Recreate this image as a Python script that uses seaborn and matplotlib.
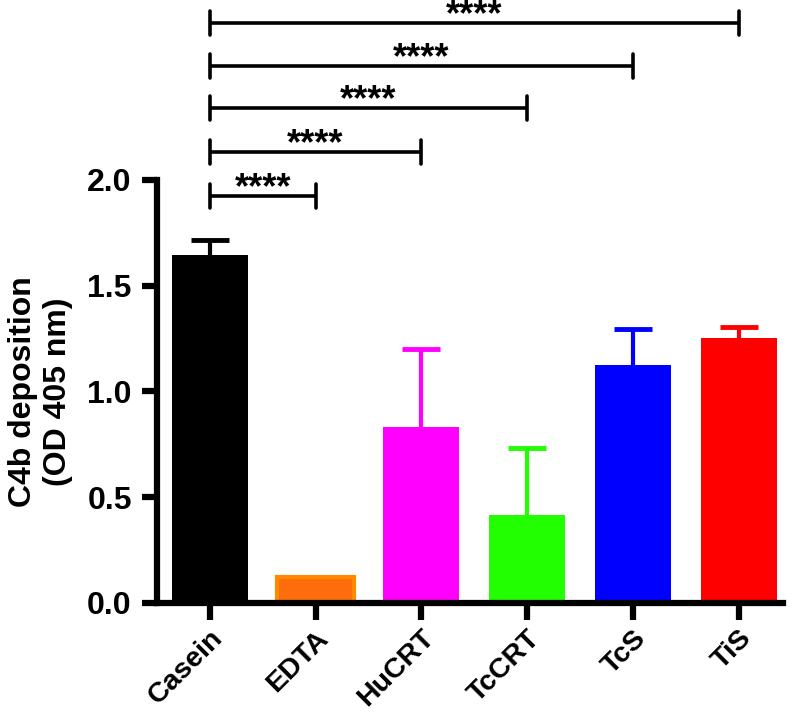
import matplotlib
matplotlib.use("Agg")
import matplotlib.pyplot as plt
import seaborn as sns
import numpy as np

# ---- data ----
groups = ["Casein", "EDTA", "HuCRT", "TcCRT", "TcS", "TiS"]
means = [1.645, 0.123, 0.832, 0.416, 1.125, 1.253]
errors = [0.071, 0.0, 0.368, 0.317, 0.171, 0.052]
colors = ["#000000", "#ff6c0c", "#ff00ff", "#22ff00", "#0000ff", "#ff0000"]
edge_colors = ["#000000", "#ff8a00", "#ff00ff", "#22ff00", "#0000ff", "#ff0000"]

# significance brackets: Casein vs each other group
bracket_targets = ["EDTA", "HuCRT", "TcCRT", "TcS", "TiS"]
bracket_heights = [1.924, 2.132, 2.340, 2.539, 2.742]
bracket_labels = ["****", "****", "****", "****", "****"]
yticks = [0.0, 0.5, 1.0, 1.5, 2.0]

sns.set_style("ticks")
plt.rcParams["font.family"] = ["Liberation Sans", "DejaVu Sans"]
plt.rcParams["font.weight"] = "bold"
plt.rcParams["text.color"] = "black"
plt.rcParams["axes.labelcolor"] = "black"
plt.rcParams["xtick.color"] = "black"
plt.rcParams["ytick.color"] = "black"
plt.rcParams["axes.edgecolor"] = "black"

fig = plt.figure(figsize=(7.96, 7.21), dpi=100)
ax = fig.add_axes([0.197, 0.1637, 0.787, 0.5867])

sns.barplot(x=groups, y=means, hue=groups, palette=colors, legend=False,
            width=0.72, saturation=1, ax=ax)

# bar edges (EDTA has a lighter orange rim)
for patch, ec, name in zip(ax.patches, edge_colors, groups):
    patch.set_edgecolor(ec)
    patch.set_linewidth(3 if name == "EDTA" else 0)
    patch.set_zorder(2)

# upper-only error bars in the bar colour (stem + top cap only)
xs = {}
for patch, err, col, name in zip(ax.patches, errors, colors, groups):
    x = patch.get_x() + patch.get_width() / 2
    xs[name] = x
    top = patch.get_height()
    if err > 0:
        ax.plot([x, x], [top, top + err], color=col, lw=3, zorder=1,
                solid_capstyle="butt")
        ax.plot([x], [top + err], marker="_", markersize=28, mew=3.5,
                color=col, zorder=1)

# significance brackets above the axes
tick_h = 0.055
for target, yb, lab in zip(bracket_targets, bracket_heights, bracket_labels):
    x0, x1 = xs["Casein"], xs[target]
    ax.plot([x0, x1], [yb, yb], color="black", lw=2.6, clip_on=False,
            solid_capstyle="butt")
    for xe in (x0, x1):
        ax.plot([xe, xe], [yb - tick_h, yb + tick_h], color="black", lw=2.6,
                clip_on=False, solid_capstyle="round")
    ax.text((x0 + x1) / 2, yb - 0.012, lab, ha="center", va="baseline",
            fontsize=26, fontweight="bold", clip_on=False)

ax.set_ylim(0, 2.0)
ax.set_xlim(-0.5, 5.42)
ax.set_yticks(yticks)
ax.set_yticklabels([f"{t:.1f}" for t in yticks], fontsize=23, fontweight="bold")
ax.set_xticks(range(len(groups)))
ax.set_xticklabels(groups, rotation=45, ha="right", rotation_mode="anchor",
                   fontsize=20.5, fontweight="bold")
ax.set_ylabel("C4b deposition\n(OD 405 nm)", fontsize=23, fontweight="bold",
              labelpad=10, linespacing=1.25)
ax.set_xlabel("")

sns.despine(ax=ax)
for side in ["left", "bottom"]:
    ax.spines[side].set_linewidth(4.5)
ax.tick_params(axis="y", length=11, width=4.5, pad=7)
ax.tick_params(axis="x", length=12, width=4.5, pad=4)

fig.savefig("out.png", dpi=100)
